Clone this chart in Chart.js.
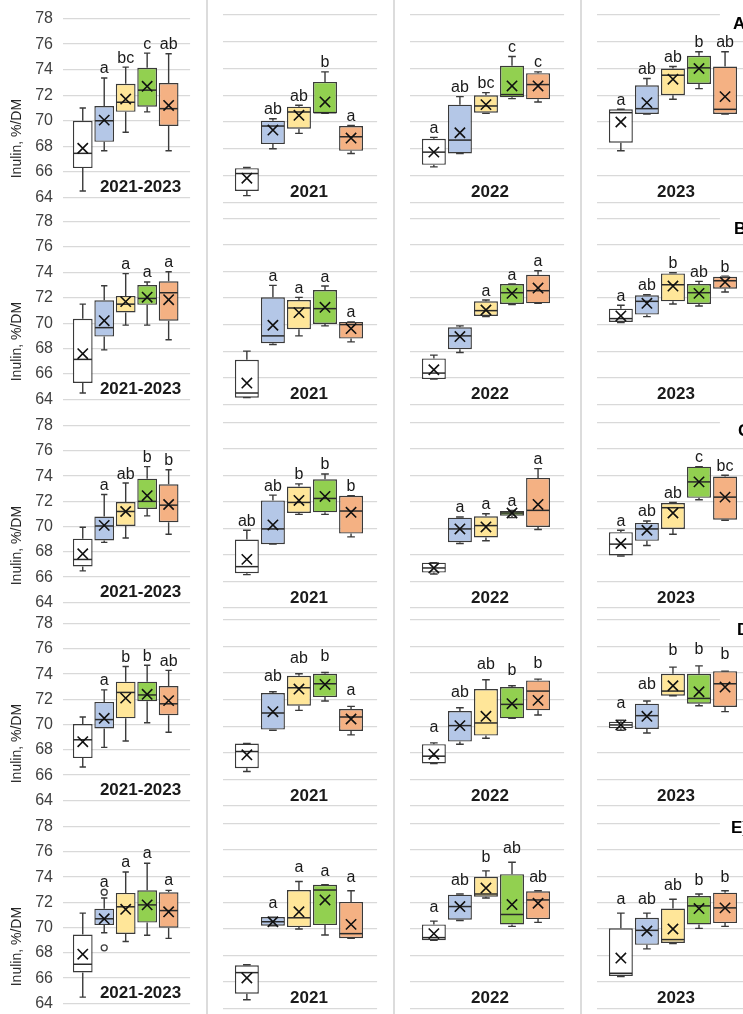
<!DOCTYPE html>
<html>
<head>
<meta charset="utf-8">
<script src="https://cdn.jsdelivr.net/npm/chart.js@4.4.0/dist/chart.umd.min.js"></script>
<style>
html,body{margin:0;padding:0;background:#fff;}
#wrap{position:relative;width:743px;height:1014px;overflow:hidden;background:#fff;}
#wrap canvas{position:absolute;}
.sep{position:absolute;top:0;width:2px;height:1014px;background:#DCDCDC;}
</style>
</head>
<body>
<div id="wrap"></div>
<script>
// ---------- data ----------
const categories = ['1', '2', '3', '4', '5'];
const panelTitles = ['2021-2023', '2021', '2022', '2023'];
const rowLabels = ['A)', 'B)', 'C)', 'D)', 'E)'];
const yTicks = [64, 66, 68, 70, 72, 74, 76, 78];
const yAxisTitle = 'Inulin, %/DM';

// panels in order: row A (2021-2023, 2021, 2022, 2023), row B ..., row E
const whiskerLow = [
  [64.5, 67.65, 69.1, 70.7, 67.65], [64.5, 68.0, 69.15, 70.65, 67.65], [66.65, 67.65, 70.65, 71.75, 71.5], [67.85, 70.6, 71.7, 72.5, 70.6],
  [64.5, 67.9, 69.85, 69.85, 68.7], [64.5, 68.5, 69.15, 69.9, 68.7], [65.9, 67.9, 70.6, 71.5, 71.6], [70.15, 70.6, 71.55, 71.4, 72.45],
  [66.5, 68.75, 69.1, 70.85, 69.4], [66.5, 68.8, 71.05, 71.05, 69.35], [66.55, 68.85, 69.05, 70.8, 69.9], [67.9, 68.7, 69.55, 72.15, 70.6],
  [66.65, 68.2, 68.7, 70.15, 69.4], [66.6, 69.7, 71.2, 71.9, 69.35], [67.2, 68.65, 69.1, 70.6, 70.85], [69.7, 69.5, 72.3, 71.55, 71.1],
  [64.5, 69.6, 68.9, 69.4, 69.15], [64.65, 70.25, 70.0, 69.55, 69.3], [69.15, 70.65, 72.35, 70.2, 70.5], [66.4, 68.5, 68.9, 70.05, 70.2]
];
const quartile1 = [
  [66.3, 68.35, 70.7, 71.1, 69.6], [64.85, 68.35, 69.5, 70.65, 67.85], [66.8, 67.65, 70.7, 71.85, 71.7], [68.45, 70.6, 72.0, 72.85, 70.6],
  [65.3, 68.95, 70.85, 71.45, 70.2], [64.5, 68.6, 69.65, 70.05, 68.95], [65.9, 68.15, 70.65, 71.55, 71.6], [70.2, 70.75, 71.75, 71.55, 72.7],
  [66.85, 68.9, 70.05, 71.4, 70.35], [66.6, 68.8, 71.15, 71.2, 69.6], [66.65, 68.95, 69.3, 70.95, 70.1], [67.95, 69.05, 69.95, 72.3, 70.65],
  [67.35, 69.7, 70.5, 71.85, 70.75], [66.85, 69.75, 71.55, 72.2, 69.65], [67.2, 68.85, 69.3, 70.6, 71.2], [69.85, 69.8, 72.3, 71.7, 71.45],
  [66.45, 70.2, 69.5, 70.4, 70.0], [65.1, 70.25, 70.15, 70.3, 69.3], [69.15, 70.7, 72.45, 70.35, 70.75], [66.45, 68.8, 68.95, 70.35, 70.45]
];
const medians = [
  [67.45, 70.0, 71.45, 72.4, 70.95], [66.15, 69.7, 70.75, 70.7, 68.9], [67.75, 68.65, 71.2, 72.05, 72.8], [70.7, 71.0, 73.5, 74.05, 70.95],
  [67.15, 69.65, 71.5, 71.95, 72.4], [64.85, 69.15, 71.25, 71.2, 70.0], [66.35, 69.15, 71.05, 72.4, 72.55], [70.45, 71.75, 73.0, 72.4, 73.3],
  [67.4, 70.05, 71.2, 72.0, 71.7], [67.1, 69.95, 71.95, 72.25, 71.3], [67.0, 69.95, 70.2, 71.15, 71.35], [68.8, 69.95, 71.55, 73.5, 72.35],
  [68.8, 70.4, 72.55, 72.35, 71.65], [68.1, 71.0, 72.9, 73.2, 70.7], [67.75, 70.05, 70.25, 71.65, 72.65], [70.1, 70.8, 72.65, 72.1, 73.2],
  [67.1, 70.7, 71.65, 71.8, 71.35], [66.7, 70.55, 70.85, 72.95, 69.65], [69.35, 71.7, 72.65, 71.1, 72.2], [66.65, 69.9, 69.2, 71.75, 71.6]
];
const quartile3 = [
  [70.0, 71.15, 72.9, 74.15, 72.95], [66.55, 70.1, 71.15, 73.0, 69.7], [68.75, 71.3, 72.0, 74.2, 73.65], [70.95, 72.75, 74.0, 74.95, 74.15],
  [70.35, 71.8, 72.15, 73.0, 73.3], [67.35, 72.05, 71.85, 72.6, 70.2], [67.45, 69.8, 71.75, 73.05, 73.75], [71.2, 72.2, 73.85, 73.05, 73.6],
  [69.05, 70.8, 71.95, 73.8, 73.35], [69.15, 72.1, 73.15, 73.7, 72.45], [67.4, 70.8, 70.9, 71.3, 73.8], [69.7, 70.4, 71.9, 74.65, 73.9],
  [70.05, 71.8, 73.4, 73.4, 73.05], [68.7, 72.5, 73.8, 73.95, 71.3], [68.65, 71.15, 72.8, 72.95, 73.45], [70.35, 71.7, 73.95, 73.95, 74.15],
  [69.45, 71.5, 72.75, 72.95, 72.8], [67.25, 70.9, 72.95, 73.35, 72.05], [70.35, 72.6, 73.95, 74.15, 72.85], [70.05, 70.85, 71.55, 72.5, 72.75]
];
const whiskerHigh = [
  [71.0, 73.35, 74.2, 75.3, 75.25], [66.6, 70.25, 71.25, 73.75, 69.75], [68.85, 71.9, 72.2, 74.9, 73.75], [70.95, 73.25, 74.15, 75.25, 75.25],
  [71.5, 72.95, 73.9, 73.25, 74.05], [68.0, 72.95, 72.05, 72.9, 70.2], [67.7, 69.9, 71.85, 73.05, 74.05], [71.45, 72.25, 73.9, 73.25, 73.65],
  [69.95, 72.55, 73.45, 74.75, 74.5], [69.85, 72.5, 73.35, 74.1, 72.45], [67.4, 70.85, 71.1, 71.35, 74.5], [69.85, 70.55, 71.95, 74.65, 74.0],
  [70.6, 72.75, 74.6, 74.7, 74.3], [68.7, 72.6, 73.95, 74.05, 71.5], [68.75, 71.4, 73.5, 73.05, 73.55], [70.45, 71.9, 74.45, 74.55, 74.15],
  [71.15, 72.35, 74.4, 75.1, 72.95], [67.3, 70.9, 73.6, 73.35, 72.9], [70.6, 72.65, 74.4, 75.05, 72.9], [71.2, 71.2, 72.25, 72.65, 72.9]
];
const means = [
  [67.85, 70.05, 71.7, 72.7, 71.2], [65.8, 69.4, 70.5, 71.5, 68.8], [67.75, 69.2, 71.3, 72.7, 72.7], [70.0, 71.45, 73.2, 74.0, 71.9],
  [67.6, 70.2, 71.7, 72.05, 71.85], [65.6, 69.95, 70.9, 71.3, 69.7], [66.6, 69.1, 71.1, 72.35, 72.75], [70.65, 71.6, 72.9, 72.35, 73.2],
  [67.85, 70.1, 71.2, 72.45, 71.75], [67.65, 70.25, 72.1, 72.4, 71.2], [67.0, 69.95, 70.1, 71.15, 71.8], [68.85, 69.85, 71.15, 73.5, 72.35],
  [68.65, 70.5, 72.1, 72.4, 71.9], [67.85, 71.1, 72.8, 73.15, 70.55], [67.9, 70.05, 70.75, 71.7, 71.95], [70.1, 70.75, 73.05, 72.6, 72.95],
  [67.9, 70.7, 71.45, 71.8, 71.25], [66.3, 70.55, 71.3, 72.2, 70.35], [69.65, 71.7, 73.1, 71.85, 71.95], [67.8, 69.85, 70.0, 71.55, 71.6]
];
const letters = [
  ['', 'a', 'bc', 'c', 'ab'], ['', 'ab', 'ab', 'b', 'a'], ['a', 'ab', 'bc', 'c', 'c'], ['a', 'ab', 'ab', 'b', 'ab'],
  ['', '', 'a', 'a', 'a'], ['', 'a', 'a', 'a', 'a'], ['', '', 'a', 'a', 'a'], ['a', 'ab', 'b', 'ab', 'b'],
  ['', 'a', 'ab', 'b', 'b'], ['ab', 'ab', 'b', 'b', 'b'], ['', 'a', 'a', 'a', 'a'], ['a', 'ab', 'ab', 'c', 'bc'],
  ['', 'a', 'b', 'b', 'ab'], ['', 'ab', 'ab', 'b', 'a'], ['a', 'ab', 'ab', 'b', 'b'], ['a', 'ab', 'b', 'b', 'b'],
  ['', 'a', 'a', 'a', 'a'], ['', 'a', 'a', 'a', 'a'], ['a', 'ab', 'b', 'ab', 'ab'], ['a', 'ab', 'ab', 'b', 'b']
];
// outliers: panel index, category index, value
const outlierPanel = [16, 16];
const outlierCategory = [1, 1];
const outlierValue = [72.8, 68.4];

// ---------- layout & style ----------
const FONT = '"Liberation Sans", Arial, Helvetica, sans-serif';
const BOX_COLORS = ['#FFFFFF', '#B4C7E7', '#FFE699', '#92D050', '#F4B183'];
const LINE = '#3A3A3A';
const PLOT_X = [[63, 195], [218, 382], [405, 569], [592, 756]];
const PLOT_Y = [[15, 202.3], [218.3, 404.3], [422.3, 607.7], [620, 806], [823.3, 1008.3]];
const TITLE_DX = [14, 9, 3, 2];
const LABEL_POS = [[136, 9.7], [137, 11.2], [141, 9.4], [140, 10], [134, 5.4]];
const LETTER_GAP = [
  [4.5, 4.5, 4.5, 4.5], [4.5, 4.5, 4.5, 4.5], [4.5, 4.5, 4.5, 4.5], [4.5, 11, 11, 12], [5, 9, 9, 9]
];
const SEPARATORS = [206, 393, 580];

Chart.defaults.font.family = FONT;

const wrap = document.getElementById('wrap');
SEPARATORS.forEach(x => {
  const d = document.createElement('div');
  d.className = 'sep';
  d.style.left = x + 'px';
  wrap.appendChild(d);
});

const panelPlugin = {
  id: 'panelPlugin',
  beforeDatasetsDraw(chart, args, opts) {
    const p = opts.panel;
    const meta = chart.getDatasetMeta(0);
    const ys = chart.scales.y;
    const ctx = chart.ctx;
    ctx.save();
    ctx.strokeStyle = LINE;
    ctx.lineWidth = 1.4;
    meta.data.forEach((bar, i) => {
      const x = bar.x;
      const cap = bar.width * 0.32;
      const yHi = ys.getPixelForValue(whiskerHigh[p][i]);
      const yQ3 = ys.getPixelForValue(quartile3[p][i]);
      const yQ1 = ys.getPixelForValue(quartile1[p][i]);
      const yLo = ys.getPixelForValue(whiskerLow[p][i]);
      ctx.beginPath();
      ctx.moveTo(x, yQ3); ctx.lineTo(x, yHi);
      ctx.moveTo(x - cap / 2, yHi); ctx.lineTo(x + cap / 2, yHi);
      ctx.moveTo(x, yQ1); ctx.lineTo(x, yLo);
      ctx.moveTo(x - cap / 2, yLo); ctx.lineTo(x + cap / 2, yLo);
      ctx.stroke();
    });
    ctx.restore();
  },
  afterDatasetDraw(chart, args, opts) {
    if (args.index !== 0) return;
    const p = opts.panel;
    const meta = chart.getDatasetMeta(0);
    const ys = chart.scales.y;
    const ctx = chart.ctx;
    ctx.save();
    ctx.strokeStyle = '#2A2A2A';
    ctx.lineWidth = 1.5;
    meta.data.forEach((bar, i) => {
      const ym = ys.getPixelForValue(medians[p][i]);
      const half = bar.width / 2 - 0.7;
      ctx.beginPath();
      ctx.moveTo(bar.x - half, ym); ctx.lineTo(bar.x + half, ym);
      ctx.stroke();
    });
    ctx.restore();
  },
  afterDraw(chart, args, opts) {
    const p = opts.panel, r = opts.row, c = opts.col;
    const meta = chart.getDatasetMeta(0);
    const ys = chart.scales.y;
    const ctx = chart.ctx;
    const area = chart.chartArea;
    ctx.save();
    // significance letters
    ctx.fillStyle = '#1A1A1A';
    ctx.font = '16px ' + FONT;
    ctx.textAlign = 'center';
    ctx.textBaseline = 'alphabetic';
    meta.data.forEach((bar, i) => {
      if (!letters[p][i]) return;
      let top = whiskerHigh[p][i];
      outlierPanel.forEach((op, k) => {
        if (op === p && outlierCategory[k] === i) top = Math.max(top, outlierValue[k]);
      });
      const yTop = ys.getPixelForValue(top);
      ctx.fillText(letters[p][i], bar.x, yTop - LETTER_GAP[r][c]);
    });
    // panel title
    ctx.font = 'bold 17px ' + FONT;
    ctx.fillStyle = '#1A1A1A';
    ctx.fillText(panelTitles[c], (area.left + area.right) / 2 + TITLE_DX[c], area.bottom - 5);
    // y axis title
    if (c === 0) {
      ctx.save();
      ctx.translate(21, area.top + 120);
      ctx.rotate(-Math.PI / 2);
      ctx.font = '14px ' + FONT;
      ctx.fillStyle = '#262626';
      ctx.textAlign = 'center';
      ctx.fillText(yAxisTitle, 0, 0);
      ctx.restore();
    }
    // row label
    if (c === 3) {
      ctx.fillStyle = '#FFFFFF';
      ctx.fillRect(area.left + 123, area.top - 4, 60, 22);
      ctx.fillStyle = '#000000';
      ctx.font = 'bold 17px ' + FONT;
      ctx.textAlign = 'left';
      ctx.textBaseline = 'middle';
      ctx.fillText(rowLabels[r], area.left + LABEL_POS[r][0], area.top + LABEL_POS[r][1]);
    }
    ctx.restore();
  }
};

function makePanel(r, c) {
  const p = r * 4 + c;
  const xl = PLOT_X[c][0], xr = PLOT_X[c][1];
  const yt = PLOT_Y[r][0], yb = PLOT_Y[r][1];
  const left = c === 0 ? 0 : xl - 4;
  const width = Math.ceil(xr) + 4 - left;
  const top = Math.floor(yt) - 16;
  const bottom = Math.ceil(yb) + 14;
  const canvas = document.createElement('canvas');
  canvas.width = width;
  canvas.height = bottom - top;
  canvas.style.left = left + 'px';
  canvas.style.top = top + 'px';
  canvas.style.width = width + 'px';
  canvas.style.height = (bottom - top) + 'px';
  wrap.appendChild(canvas);
  const axisW = c === 0 ? xl : 0;

  const outData = [];
  outlierPanel.forEach((op, k) => {
    if (op === p) outData.push({ x: outlierCategory[k] + 1, y: outlierValue[k] });
  });

  new Chart(canvas, {
    type: 'bar',
    data: {
      datasets: [
        {
          type: 'bar',
          data: categories.map((_, i) => ({ x: i + 1, y: [quartile1[p][i], quartile3[p][i]] })),
          backgroundColor: BOX_COLORS,
          borderColor: LINE,
          borderWidth: 1.4,
          borderSkipped: false,
          barPercentage: 0.92,
          categoryPercentage: 1,
          order: 3
        },
        {
          type: 'scatter',
          data: categories.map((_, i) => ({ x: i + 1, y: means[p][i] })),
          pointStyle: 'crossRot',
          pointRadius: 7.3,
          borderColor: '#111111',
          backgroundColor: 'rgba(0,0,0,0)',
          borderWidth: 1.6,
          order: 1
        },
        {
          type: 'scatter',
          data: outData,
          pointStyle: 'circle',
          pointRadius: 3,
          borderColor: '#404040',
          backgroundColor: '#FFFFFF',
          borderWidth: 1.3,
          order: 2
        }
      ]
    },
    options: {
      responsive: false,
      animation: false,
      devicePixelRatio: 1,
      events: [],
      layout: {
        padding: { left: c === 0 ? 0 : 4, right: left + width - xr, top: yt - top, bottom: bottom - yb }
      },
      plugins: {
        legend: { display: false },
        tooltip: { enabled: false },
        title: { display: false },
        panelPlugin: { panel: p, row: r, col: c }
      },
      scales: {
        x: {
          type: 'linear', min: 0.08, max: 6.0, offset: false, display: false
        },
        y: {
          type: 'linear', min: 64, max: 78,
          afterBuildTicks: s => { s.ticks = yTicks.map(v => ({ value: v })); },
          afterFit: s => { s.width = axisW; },
          ticks: { display: c === 0, padding: 10, color: '#404040', font: { family: FONT, size: 16 } },
          grid: { color: '#D9D9D9', lineWidth: 1.3, drawTicks: false },
          border: { display: false }
        }
      }
    },
    plugins: [panelPlugin]
  });
}

for (let r = 0; r < 5; r++) {
  for (let c = 0; c < 4; c++) makePanel(r, c);
}
</script>
</body>
</html>
